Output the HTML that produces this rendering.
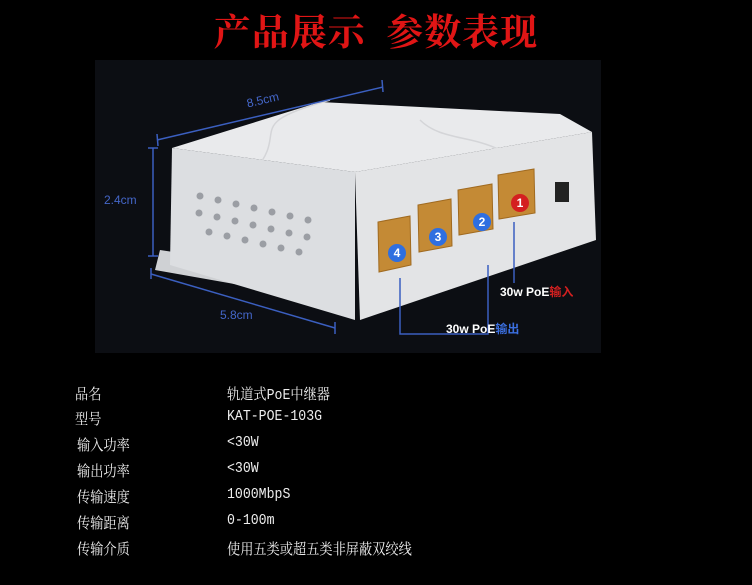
<!DOCTYPE html>
<html><head><meta charset="utf-8"><style>
body{margin:0;background:#000;width:752px;height:585px;overflow:hidden;position:relative;font-family:"Liberation Sans","Noto Sans CJK SC",sans-serif}
.t{position:absolute;left:0;width:752px;top:2px;text-align:center;color:#e01515;font:bold 37px "Noto Serif CJK SC","Liberation Serif",serif;letter-spacing:1px}
.r{position:absolute;color:#eee;font:15px "Liberation Mono","Noto Serif CJK SC",monospace;white-space:nowrap;transform:scaleX(0.88);transform-origin:0 0}
</style></head><body>
<div class="t">产品展示&nbsp;&nbsp;参数表现</div>
<svg width="752" height="585" style="position:absolute;left:0;top:0">
<rect x="95" y="60" width="506" height="293" fill="#0c0e13"/>
<polygon points="160,250 240,262 240,285 155,270" fill="#cfd1d4"/>
<polygon points="172,148 320,102 560,114 592,132 355,172" fill="#e9eaec"/>
<path d="M255,170 C290,130 240,125 330,100" stroke="#d4d5d8" fill="none" stroke-width="1.5"/>
<path d="M420,120 C440,140 470,135 500,150" stroke="#d4d5d8" fill="none" stroke-width="1.5"/>
<polygon points="172,148 355,172 355,320 170,265" fill="#dcdee1"/>
<polygon points="355,172 592,132 596,240 360,320" fill="#e3e4e6"/>
<g fill="#9b9ea4">
<circle cx="200" cy="196" r="3.5"/><circle cx="218" cy="200" r="3.5"/><circle cx="236" cy="204" r="3.5"/><circle cx="254" cy="208" r="3.5"/><circle cx="272" cy="212" r="3.5"/><circle cx="290" cy="216" r="3.5"/><circle cx="308" cy="220" r="3.5"/>
<circle cx="199" cy="213" r="3.5"/><circle cx="217" cy="217" r="3.5"/><circle cx="235" cy="221" r="3.5"/><circle cx="253" cy="225" r="3.5"/><circle cx="271" cy="229" r="3.5"/><circle cx="289" cy="233" r="3.5"/><circle cx="307" cy="237" r="3.5"/>
<circle cx="209" cy="232" r="3.5"/><circle cx="227" cy="236" r="3.5"/><circle cx="245" cy="240" r="3.5"/><circle cx="263" cy="244" r="3.5"/><circle cx="281" cy="248" r="3.5"/><circle cx="299" cy="252" r="3.5"/>
</g>
<g fill="#c48a35" stroke="#a06a20">
<polygon points="378,222 410,216 411,265 379,272"/>
<polygon points="418,205 451,199 452,246 419,252"/>
<polygon points="458,190 492,184 493,229 459,235"/>
<polygon points="498,175 534,169 535,213 499,219"/>
</g>
<rect x="555" y="182" width="14" height="20" fill="#222"/>
<g font-family="Liberation Sans" font-weight="bold" font-size="12" fill="#fff" text-anchor="middle">
<circle cx="397" cy="253" r="9" fill="#2f6fe0"/><text x="397" y="257">4</text>
<circle cx="438" cy="237" r="9" fill="#2f6fe0"/><text x="438" y="241">3</text>
<circle cx="482" cy="222" r="9" fill="#2f6fe0"/><text x="482" y="226">2</text>
<circle cx="520" cy="203" r="9" fill="#d42020"/><text x="520" y="207">1</text>
</g>
<g stroke="#3b5fc0" stroke-width="1.5" fill="none">
<line x1="157" y1="140" x2="383" y2="87"/><line x1="157" y1="134" x2="158" y2="146"/><line x1="382" y1="80" x2="383" y2="92"/>
<line x1="153" y1="148" x2="153" y2="256"/><line x1="148" y1="148" x2="158" y2="148"/><line x1="148" y1="256" x2="158" y2="256"/>
<line x1="151" y1="274" x2="335" y2="328"/><line x1="151" y1="268" x2="151" y2="279"/><line x1="335" y1="322" x2="335" y2="334"/>
<polyline points="400,278 400,334 488,334 488,265"/>
<line x1="514" y1="222" x2="514" y2="283"/>
</g>
<g font-family="Liberation Sans" font-size="12" fill="#4466c8">
<text x="246" y="104" transform="rotate(-13 262 98)">8.5cm</text>
<text x="104" y="204">2.4cm</text>
<text x="220" y="319">5.8cm</text>
</g>
<g font-family="Liberation Sans,Noto Sans CJK SC" font-size="12" font-weight="bold" fill="#fff">
<text x="500" y="296">30w PoE<tspan fill="#d42020">输入</tspan></text>
<text x="446" y="333">30w PoE<tspan fill="#3b6fe0">输出</tspan></text>
</g>
</svg>
<div class="r" style="left:75px;top:383px">品名</div><div class="r" style="left:227px;top:383px">轨道式PoE中继器</div>
<div class="r" style="left:75px;top:408px">型号</div><div class="r" style="left:227px;top:408px">KAT-POE-103G</div>
<div class="r" style="left:77px;top:434px">输入功率</div><div class="r" style="left:227px;top:434px">&lt;30W</div>
<div class="r" style="left:77px;top:460px">输出功率</div><div class="r" style="left:227px;top:460px">&lt;30W</div>
<div class="r" style="left:77px;top:486px">传输速度</div><div class="r" style="left:227px;top:486px">1000MbpS</div>
<div class="r" style="left:77px;top:512px">传输距离</div><div class="r" style="left:227px;top:512px">0-100m</div>
<div class="r" style="left:77px;top:538px">传输介质</div><div class="r" style="left:227px;top:538px">使用五类或超五类非屏蔽双绞线</div>
</body></html>
